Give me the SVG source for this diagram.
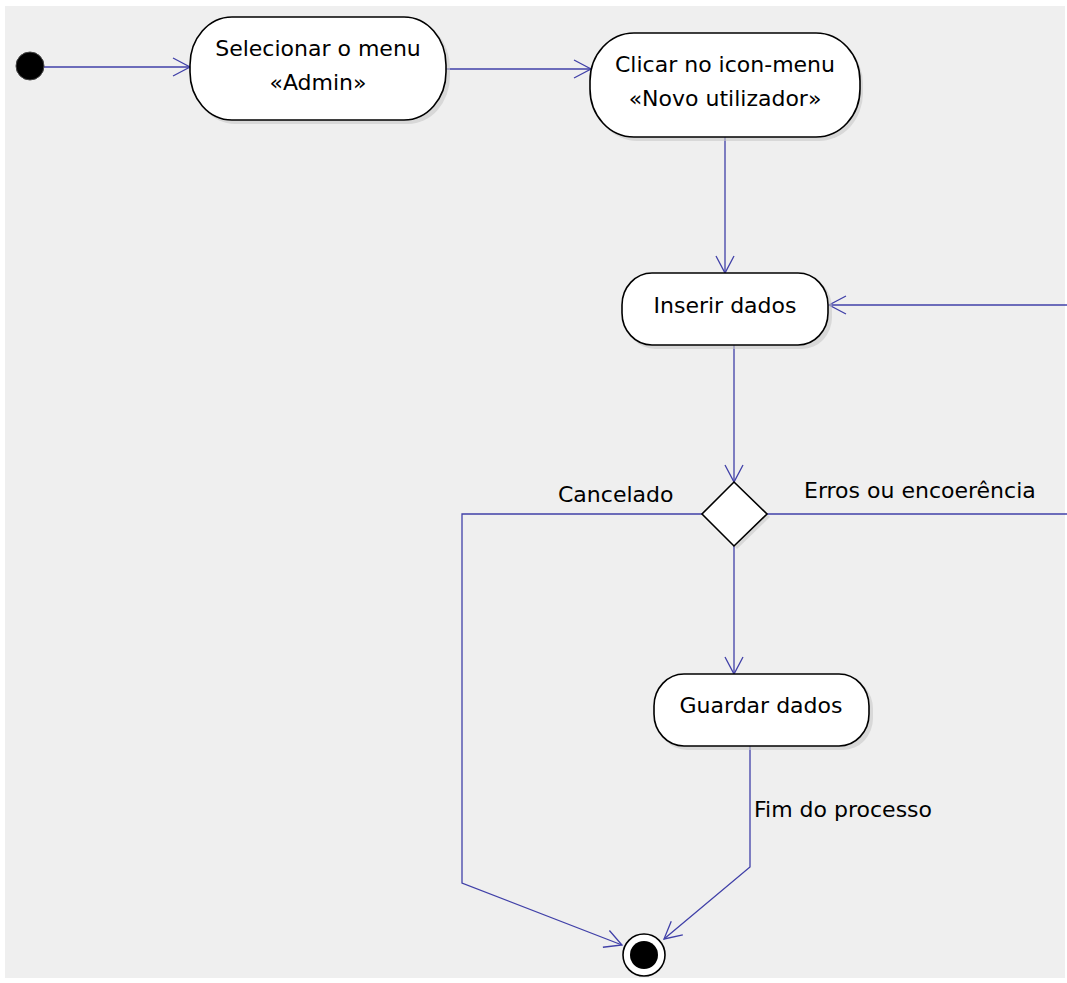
<svg xmlns="http://www.w3.org/2000/svg" width="1067" height="983" viewBox="0 0 1067 983">
<defs>
<style>
.bg{fill:#efefef}
.node{fill:#ffffff;stroke:#000000;stroke-width:1.6}
.shadow{fill:#c8c8c8;opacity:0.6}
.edge{fill:none;stroke:#4040a8;stroke-width:1.3}
.t{font-family:"DejaVu Sans",sans-serif;font-size:22px;fill:#000000;text-anchor:middle}
.lbl{font-family:"DejaVu Sans",sans-serif;font-size:22px;fill:#000000}
</style>
<marker id="arr" markerUnits="userSpaceOnUse" markerWidth="24" markerHeight="24" viewBox="-20 -12 24 24" refX="0" refY="0" orient="auto">
<path d="M-17,-9 L0,0 L-17,9" fill="none" stroke="#4040a8" stroke-width="1.3"/>
</marker>
</defs>
<rect x="0" y="0" width="1067" height="983" fill="#ffffff"/>
<rect class="bg" x="5" y="6" width="1060" height="972"/>

<g id="connectors">
<line class="edge" x1="44" y1="67" x2="190" y2="67" marker-end="url(#arr)"/>
<line class="edge" x1="446" y1="69" x2="591" y2="69" marker-end="url(#arr)"/>
<line class="edge" x1="725" y1="137" x2="725" y2="273" marker-end="url(#arr)"/>
<line class="edge" x1="1067" y1="305" x2="829" y2="305" marker-end="url(#arr)"/>
<line class="edge" x1="734" y1="345" x2="734" y2="482" marker-end="url(#arr)"/>
<polyline class="edge" points="702,514 462,514 462,883 622,945" marker-end="url(#arr)"/>
<line class="edge" x1="767" y1="514" x2="1067" y2="514"/>
<line class="edge" x1="734" y1="546" x2="734" y2="674" marker-end="url(#arr)"/>
<polyline class="edge" points="750,746 750,867 664,939" marker-end="url(#arr)"/>
<text class="lbl" x="558" y="502">Cancelado</text>
<text class="lbl" x="804" y="498">Erros ou encoerência</text>
<text class="lbl" x="754" y="817">Fim do processo</text>
</g>

<g id="start">
<circle cx="30" cy="66" r="14" fill="#000000" stroke="#444444" stroke-width="1"/>
</g>

<g id="selecionar">
<rect class="shadow" x="193" y="20" width="257" height="104" rx="42" ry="48"/>
<rect class="node" x="190" y="17" width="256" height="103" rx="42" ry="48"/>
<text class="t" x="318" y="56">Selecionar o menu</text>
<text class="t" x="318" y="90">«Admin»</text>
</g>

<g id="clicar">
<rect class="shadow" x="593" y="36" width="270" height="105" rx="44" ry="48"/>
<rect class="node" x="590" y="33" width="270" height="104" rx="44" ry="48"/>
<text class="t" x="725" y="72">Clicar no icon-menu</text>
<text class="t" x="725" y="106">«Novo utilizador»</text>
</g>

<g id="inserir">
<rect class="shadow" x="625" y="276" width="207" height="73" rx="30" ry="32"/>
<rect class="node" x="622" y="273" width="206" height="72" rx="30" ry="32"/>
<text class="t" x="725" y="313">Inserir dados</text>
</g>

<g id="decision">
<polygon class="shadow" points="737,485 770,517 737,549 705,517"/>
<polygon class="node" points="734,482 767,514 734,546 702,514"/>
</g>

<g id="guardar">
<rect class="shadow" x="657" y="677" width="216" height="73" rx="30" ry="32"/>
<rect class="node" x="654" y="674" width="215" height="72" rx="30" ry="32"/>
<text class="t" x="761" y="713">Guardar dados</text>
</g>

<g id="end">
<circle cx="644" cy="955" r="21" fill="#ffffff" stroke="#000000" stroke-width="1.6"/>
<circle cx="644" cy="955" r="14" fill="#000000"/>
</g>
</svg>
